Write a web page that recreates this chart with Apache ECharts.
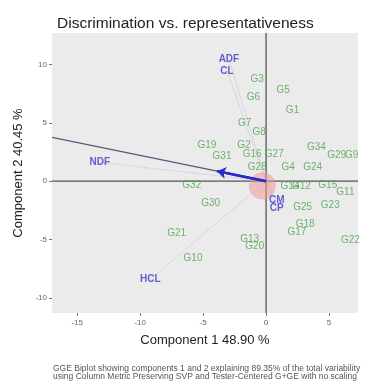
<!DOCTYPE html>
<html>
<head>
<meta charset="utf-8">
<script src="https://cdn.jsdelivr.net/npm/echarts@6/dist/echarts.min.js"></script>
<style>
  html, body { margin: 0; padding: 0; background: #fff; }
  #chart { width: 387px; height: 384px; }
</style>
</head>
<body>
<div id="chart"></div>
<script>
// genotypes: [component1, component2]
const genoNames = ['G3','G5','G6','G1','G7','G8','G19','G2','G31','G16','G27','G34','G29','G9','G24','G4','G28',
  'G32','G30','G21','G10','G13','G20','G17','G18','G25','G23','G14','G12','G15','G11','G22'];
const genoX = [-0.7, 1.35, -1.0, 2.1, -1.7, -0.55, -4.7, -1.75, -3.5, -1.1, 0.65, 4.0, 5.6, 6.8, 3.7, 1.75, -0.7,
  -5.9, -4.4, -7.1, -5.8, -1.3, -0.9, 2.45, 3.1, 2.9, 5.1, 1.9, 2.8, 4.9, 6.3, 6.7];
const genoY = [8.7, 7.8, 7.2, 6.1, 5.0, 4.2, 3.1, 3.1, 2.1, 2.3, 2.3, 2.9, 2.2, 2.2, 1.2, 1.2, 1.2,
  -0.35, -1.9, -4.5, -6.6, -5.0, -5.6, -4.4, -3.7, -2.2, -2.1, -0.45, -0.4, -0.35, -0.95, -5.1];

// environments (traits)
const envNames = ['ADF','CL','NDF','HCL','CM','CP'];
const envX = [-2.95, -3.1, -13.2, -9.2, 0.85, 0.85];
const envY = [10.45, 9.45, 1.6, -8.4, -1.6, -2.3];

// average environment axis and arrow
const aeaStart = [-17, 3.75];
const arrowTip = [-3.9, 0.86];

const xTicks = [-15, -10, -5, 0, 5];
const yTicks = [-10, -5, 0, 5, 10];
const xMin = -17, xMax = 7.3, yMin = -11.3, yMax = 12.7;

const chart = echarts.init(document.getElementById('chart'));

const genoData = genoNames.map((n, i) => [genoX[i], genoY[i], n]);
const envData = envNames.map((n, i) => [envX[i], envY[i], n]);

const vecLines = envNames.map((n, i) => ({
  type: 'line',
  data: [[0, 0], [envX[i], envY[i]]],
  symbol: 'none',
  silent: true,
  lineStyle: { color: '#c4c4d4', width: 1, type: 'dotted' },
  z: 2
}));

const font = 'Liberation Sans, Arial, sans-serif';

chart.setOption({
  animation: false,
  backgroundColor: '#fff',
  title: {
    text: 'Discrimination vs. representativeness',
    left: 52, top: 11,
    textStyle: { fontSize: 15.5, fontWeight: 'normal', color: '#222', fontFamily: font }
  },
  grid: {
    left: 52, right: 29, top: 33, bottom: 71,
    show: true, backgroundColor: '#ebebeb', borderWidth: 0
  },
  xAxis: {
    type: 'value', min: xMin, max: xMax,
    name: 'Component 1 48.90 %', nameLocation: 'middle', nameGap: 21,
    nameTextStyle: { fontSize: 13, color: '#222', fontFamily: font },
    axisLine: { show: false, onZero: false },
    splitLine: { show: false },
    axisTick: { show: true, length: 3, customValues: xTicks, lineStyle: { color: '#777' } },
    axisLabel: { customValues: xTicks, fontSize: 8, color: '#666', margin: 6, fontFamily: font }
  },
  yAxis: {
    type: 'value', min: yMin, max: yMax,
    name: 'Component 2 40.45 %', nameLocation: 'middle', nameGap: 27,
    nameTextStyle: { fontSize: 13, color: '#222', fontFamily: font },
    axisLine: { show: false, onZero: false },
    splitLine: { show: false },
    axisTick: { show: true, length: 3, customValues: yTicks, lineStyle: { color: '#777' } },
    axisLabel: { customValues: yTicks, fontSize: 8, color: '#666', margin: 5, fontFamily: font }
  },
  graphic: [{
    type: 'text', left: 53, top: 364,
    style: {
      text: 'GGE Biplot showing components 1 and 2 explaining 89.35% of the total variability\nusing Column Metric Preserving SVP and Tester-Centered G+GE with no scaling',
      fontSize: 8.5, lineHeight: 8, fill: '#555', fontFamily: font
    }
  }],
  series: [
    {
      type: 'line', data: [[0, yMin], [0, yMax]], symbol: 'none', silent: true,
      lineStyle: { color: '#555', width: 1.3 }, z: 1
    },
    {
      type: 'line', data: [[xMin, 0], [xMax, 0]], symbol: 'none', silent: true,
      lineStyle: { color: '#555', width: 1.3 }, z: 1
    },
    ...vecLines,
    {
      type: 'line', data: [aeaStart, [0, 0]], symbol: 'none', silent: true,
      lineStyle: { color: '#5a5a7a', width: 1.3 }, z: 3
    },
    {
      type: 'line', data: [[0, 0], arrowTip], symbol: 'none', silent: true,
      lineStyle: { color: '#2a2ac8', width: 2.5 }, z: 4,
      markLine: {
        silent: true, symbol: ['none', 'arrow'], symbolSize: 9,
        label: { show: false },
        lineStyle: { color: '#2a2ac8', width: 2.5, type: 'solid' },
        data: [[{ coord: [0, 0] }, { coord: arrowTip }]]
      }
    },
    {
      type: 'scatter', data: [[-0.3, -0.4]], symbolSize: 27, silent: true,
      itemStyle: { color: 'rgba(240,150,150,0.65)' }, z: 3
    },
    {
      type: 'scatter', data: genoData, symbolSize: 1, silent: true,
      itemStyle: { color: 'transparent' },
      label: {
        show: true, position: 'inside', formatter: p => p.data[2],
        fontSize: 10, color: '#4ea34e', fontFamily: font
      },
      labelLayout: { hideOverlap: false },
      z: 5
    },
    {
      type: 'scatter', data: envData, symbolSize: 1, silent: true,
      itemStyle: { color: 'transparent' },
      label: {
        show: true, position: 'inside', formatter: p => p.data[2],
        fontSize: 10, fontWeight: 'bold', color: '#3c3cc8', fontFamily: font
      },
      z: 6
    }
  ]
});
</script>
</body>
</html>
